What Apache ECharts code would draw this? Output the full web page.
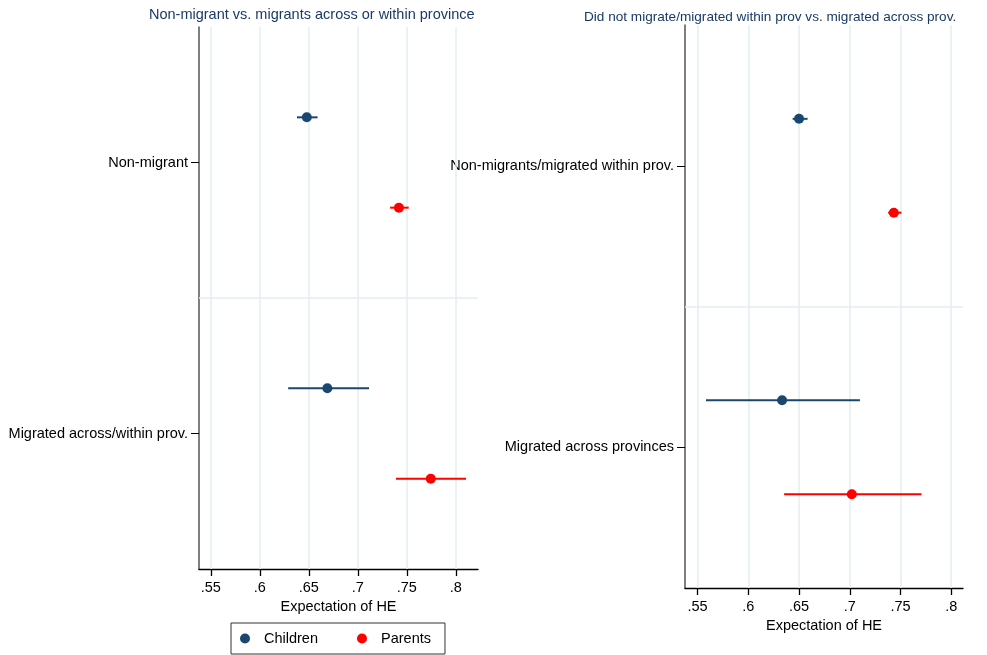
<!DOCTYPE html>
<html>
<head>
<meta charset="utf-8">
<script src="https://cdn.jsdelivr.net/npm/echarts@6/dist/echarts.min.js"></script>
<style>
html,body{margin:0;padding:0;background:#fff;}
#chart{width:987px;height:655px;}
</style>
</head>
<body>
<div id="chart"></div>
<script>
// ---- data ----
const titleLeft = 'Non-migrant vs. migrants across or within province';
const titleRight = 'Did not migrate/migrated within prov vs. migrated across prov.';
const categoriesLeft = ['Non-migrant', 'Migrated across/within prov.'];
const categoriesRight = ['Non-migrants/migrated within prov.', 'Migrated across provinces'];
const xTickValues = [0.55, 0.6, 0.65, 0.7, 0.75, 0.8];
const xAxisTitle = 'Expectation of HE';
const seriesNames = ['Children', 'Parents'];

// left panel
const childrenLeft   = [0.648, 0.669];
const childrenLeftLo = [0.638, 0.629];
const childrenLeftHi = [0.659, 0.7115];
const parentsLeft    = [0.742, 0.7745];
const parentsLeftLo  = [0.733, 0.739];
const parentsLeftHi  = [0.752, 0.8105];

// right panel
const childrenRight   = [0.650, 0.6333];
const childrenRightLo = [0.6437, 0.5583];
const childrenRightHi = [0.6584, 0.710];
const parentsRight    = [0.7434, 0.702];
const parentsRightLo  = [0.7378, 0.6353];
const parentsRightHi  = [0.751, 0.7707];

// ---- styling ----
const FONT = '"Liberation Sans", Arial, sans-serif';
const FS = 14.5;
const C_CHILD = '#1a476f';
const C_PAR = '#ff0000';
const GRIDC = '#e3eef1';
const OFF = 1 / 6;

function fmtTick(v) {
  return String(+(+v).toFixed(2)).replace(/^0/, '');
}

function xAxisFor(gridIndex, min, max, nameGap) {
  return {
    gridIndex, type: 'value', min, max,
    name: xAxisTitle, nameLocation: 'middle', nameGap,
    nameTextStyle: { fontFamily: FONT, fontSize: FS, color: '#000' },
    axisLine: { show: true, onZero: false, lineStyle: { color: '#000', width: 1.3 } },
    axisTick: { show: true, customValues: xTickValues, length: 7, lineStyle: { color: '#000', width: 1.3 } },
    axisLabel: { customValues: xTickValues, formatter: fmtTick, fontFamily: FONT, fontSize: FS, color: '#000', margin: 11 },
    splitLine: { show: false }
  };
}
function yAxisFor(gridIndex, cats) {
  return {
    gridIndex, type: 'value', inverse: true, min: 0.5, max: 2.5,
    axisLine: { show: true, onZero: false, lineStyle: { color: '#555', width: 1.5 } },
    axisTick: { show: true, customValues: [1, 2], length: 8, lineStyle: { color: '#000', width: 1 } },
    axisLabel: { customValues: [1, 2], formatter: v => cats[Math.round(v) - 1], fontFamily: FONT, fontSize: FS, color: '#000', margin: 11 },
    splitLine: { show: false }
  };
}

function errSeries(name, gi, lo, hi, off, color) {
  return {
    name, type: 'custom', xAxisIndex: gi, yAxisIndex: gi, z: 3,
    itemStyle: { color },
    data: lo.map((l, i) => [l, hi[i], i + 1 + off]),
    encode: { x: [0, 1], y: 2 },
    renderItem: (params, api) => {
      const y = api.value(2);
      const p1 = api.coord([api.value(0), y]);
      const p2 = api.coord([api.value(1), y]);
      return { type: 'line', shape: { x1: p1[0], y1: p1[1], x2: p2[0], y2: p2[1] }, style: { stroke: color, lineWidth: 2 } };
    },
    silent: true
  };
}
function ptSeries(name, gi, vals, off, color) {
  return {
    name, type: 'scatter', xAxisIndex: gi, yAxisIndex: gi, z: 5,
    symbol: 'circle', symbolSize: 10,
    itemStyle: { color, opacity: 1 },
    data: vals.map((v, i) => [v, i + 1 + off])
  };
}
function gridLines(gi) {
  return {
    name: '_grid' + gi,
    type: 'scatter', xAxisIndex: gi, yAxisIndex: gi, data: [], silent: true, z: 1,
    markLine: {
      silent: true, symbol: 'none', label: { show: false }, animation: false, z: 1,
      lineStyle: { color: GRIDC, width: 1.5, type: 'solid' },
      data: xTickValues.map(v => ({ xAxis: v })).concat([{ yAxis: 1.5 }])
    }
  };
}

const chart = echarts.init(document.getElementById('chart'), null, { renderer: 'canvas' });
chart.setOption({
  animation: false,
  backgroundColor: '#fff',
  textStyle: { fontFamily: FONT },
  graphic: [
    { type: 'text', left: 149, top: 7, style: { text: titleLeft, font: '14.5px ' + FONT, fill: '#1a3a66' } },
    { type: 'text', left: 584, top: 10, style: { text: titleRight, font: '13.6px ' + FONT, fill: '#1a3a66' } }
  ],
  grid: [
    { left: 199, right: 509, top: 27, bottom: 86, containLabel: false },
    { left: 685, right: 24, top: 25, bottom: 67, containLabel: false }
  ],
  xAxis: [xAxisFor(0, 0.538, 0.8227, 29), xAxisFor(1, 0.5376, 0.8116, 28)],
  yAxis: [yAxisFor(0, categoriesLeft), yAxisFor(1, categoriesRight)],
  legend: {
    show: true, left: 231, top: 623,
    orient: 'horizontal',
    data: seriesNames.map(n => ({ name: n, icon: 'circle' })),
    itemWidth: 10, itemHeight: 10, itemGap: 39,
    padding: [8, 14, 8, 9],
    borderColor: '#333', borderWidth: 1, borderRadius: 0,
    textStyle: { fontFamily: FONT, fontSize: FS, color: '#000', padding: [0, 0, 0, 9] },
    selectedMode: false
  },
  series: [
    ptSeries('Children', 0, childrenLeft, -OFF, C_CHILD),
    ptSeries('Parents', 0, parentsLeft, OFF, C_PAR),
    ptSeries('Children', 1, childrenRight, -OFF, C_CHILD),
    ptSeries('Parents', 1, parentsRight, OFF, C_PAR),
    errSeries('Children', 0, childrenLeftLo, childrenLeftHi, -OFF, C_CHILD),
    errSeries('Parents', 0, parentsLeftLo, parentsLeftHi, OFF, C_PAR),
    errSeries('Children', 1, childrenRightLo, childrenRightHi, -OFF, C_CHILD),
    errSeries('Parents', 1, parentsRightLo, parentsRightHi, OFF, C_PAR),
    gridLines(0), gridLines(1)
  ]
});
</script>
</body>
</html>
